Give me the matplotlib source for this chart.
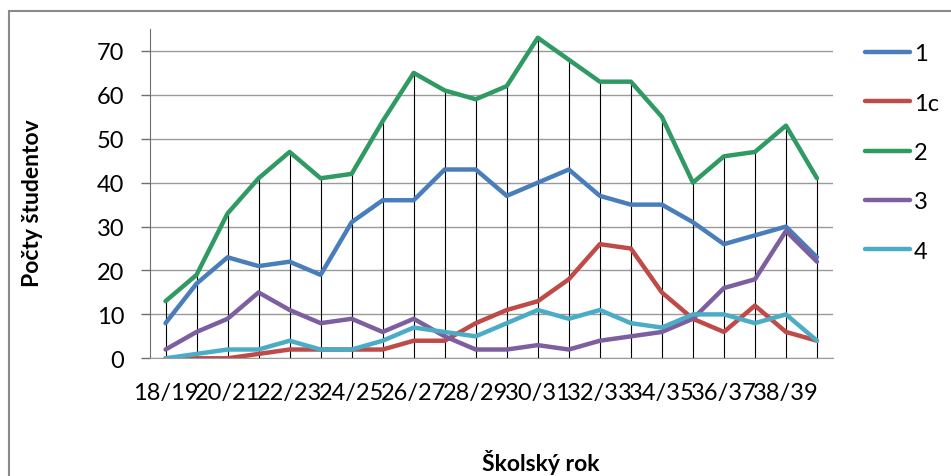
import numpy as np
import matplotlib
matplotlib.use('Agg')
import matplotlib.pyplot as plt
from matplotlib.patches import Rectangle

# school years 18/19 .. 39/40
years = [f'{y}/{y + 1}' for y in range(18, 40)]

s1 = [8, 17, 23, 21, 22, 19, 31, 36, 36, 43, 43, 37, 40, 43, 37, 35, 35, 31, 26, 28, 30, 23]
s1c = [0, 0, 0, 1, 2, 2, 2, 2, 4, 4, 8, 11, 13, 18, 26, 25, 15, 9, 6, 12, 6, 4]
s2 = [13, 19, 33, 41, 47, 41, 42, 54, 65, 61, 59, 62, 73, 68, 63, 63, 55, 40, 46, 47, 53, 41]
s3 = [2, 6, 9, 15, 11, 8, 9, 6, 9, 5, 2, 2, 3, 2, 4, 5, 6, 9, 16, 18, 29, 22]
s4 = [0, 1, 2, 2, 4, 2, 2, 4, 7, 6, 5, 8, 11, 9, 11, 8, 7, 10, 10, 8, 10, 4]

labels = ['1', '1c', '2', '3', '4']
colors = ['#4a7ebb', '#be4b48', '#2f9a62', '#7d5fa0', '#4bacc6']

plt.rcParams['font.family'] = ['Lato', 'DejaVu Sans']

W, H = 951, 477
fig = plt.figure(figsize=(W / 100, H / 100), dpi=100)

# outer chart border
fig.patches.append(Rectangle((9 / W, -0.1), 1.2, 1.1 - 12 / H, transform=fig.transFigure,
                             fill=False, edgecolor='#8a8a8a', linewidth=1.5))

ax = fig.add_axes([150 / W, (H - 359.3) / H, (832.5 - 150) / W, (359.3 - 30) / H])

x = np.arange(len(years))
series = [s1, s1c, s2, s3, s4]

# drop lines from highest series down to the axis
top = np.max(np.array(series), axis=0)
ax.vlines(x, 0, top, color='black', linewidth=0.8, zorder=2)

for vals, lab, c in zip(series, labels, colors):
    ax.plot(x, vals, color=c, linewidth=3.2, label=lab, zorder=3, solid_capstyle='round')

ax.set_xlim(-0.5, len(years) - 0.5)
ax.set_ylim(0, 75)
ax.set_yticks(range(0, 71, 10))
ax.set_xticks(x[::2])
ax.set_xticklabels(years[::2])
ax.yaxis.grid(True, color='#9a9a9a', linewidth=1)
ax.set_axisbelow(True)

for sp in ['top', 'right']:
    ax.spines[sp].set_visible(False)
ax.spines['left'].set_color('#6e6e6e')
ax.spines['bottom'].set_color('#9a9a9a')
ax.tick_params(axis='y', length=6.5, width=1, color='#6e6e6e', pad=12, labelsize=17)
ax.tick_params(axis='x', length=0, pad=17, labelsize=17)

fig.text(33 / W, 1 - 203 / H, 'Počty študentov', rotation=90, ha='center', va='center',
         fontsize=16.5, fontweight='bold')
fig.text(541 / W, 1 - 463 / H, 'Školský rok', ha='center', va='center',
         fontsize=16.5, fontweight='bold')

fig.legend(loc='upper left', bbox_to_anchor=(844 / W, 1 - 23 / H), frameon=False,
           fontsize=17, handlelength=1.9, handletextpad=0.15, labelspacing=1.2)

fig.savefig('out.png', dpi=100)
